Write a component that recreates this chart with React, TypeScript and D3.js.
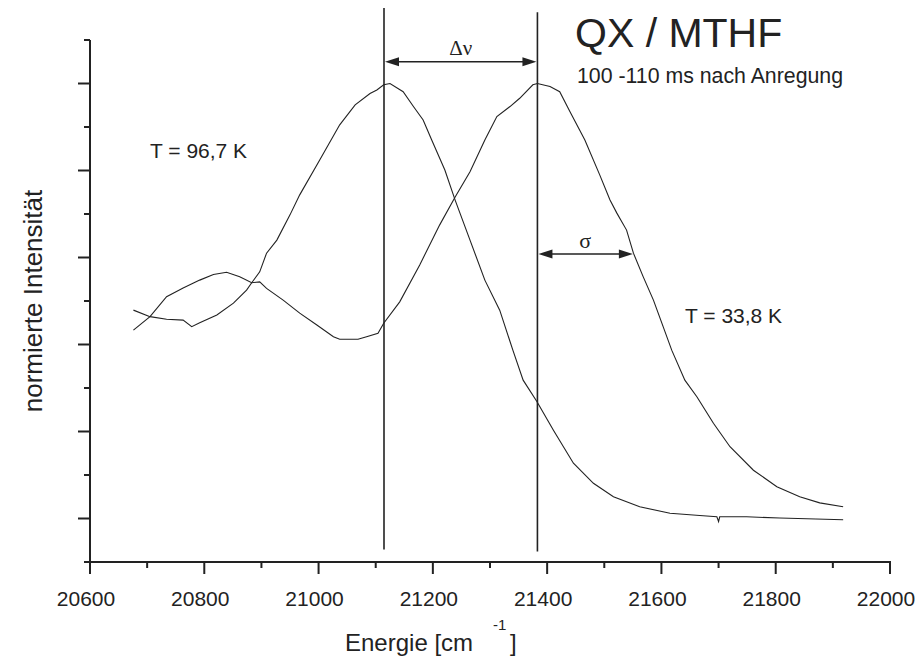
import React from "react";
import * as d3 from "d3";

// Energy axis [cm^-1] and normalized intensity
const energyLow = [20676, 20705, 20734, 20763, 20778, 20792, 20822, 20851, 20874, 20883, 20897, 20909, 20927, 20950, 20967, 21002, 21037, 21064, 21090, 21102, 21114, 21125, 21148, 21166, 21183, 21198, 21221, 21239, 21265, 21291, 21317, 21340, 21358, 21382, 21411, 21446, 21481, 21516, 21562, 21615, 21667, 21697, 21700, 21702, 21749, 21807, 21918];
const intensityHigh967 = [0.479, 0.464, 0.458, 0.456, 0.441, 0.450, 0.468, 0.495, 0.525, 0.542, 0.567, 0.610, 0.640, 0.698, 0.744, 0.824, 0.905, 0.951, 0.977, 0.985, 0.997, 1.000, 0.981, 0.947, 0.916, 0.870, 0.801, 0.732, 0.640, 0.548, 0.479, 0.387, 0.318, 0.269, 0.203, 0.127, 0.081, 0.050, 0.027, 0.012, 0.007, 0.004, -0.007, 0.004, 0.004, 0.001, -0.003];

const energyCold = [20676, 20705, 20734, 20763, 20792, 20816, 20839, 20862, 20883, 20897, 20909, 20938, 20967, 20997, 21026, 21037, 21069, 21084, 21104, 21114, 21142, 21177, 21212, 21239, 21265, 21291, 21312, 21335, 21352, 21375, 21383, 21405, 21422, 21440, 21466, 21492, 21510, 21522, 21539, 21551, 21568, 21586, 21603, 21618, 21641, 21662, 21691, 21720, 21761, 21802, 21842, 21877, 21918];
const intensity338 = [0.433, 0.464, 0.510, 0.530, 0.548, 0.561, 0.566, 0.556, 0.542, 0.544, 0.529, 0.502, 0.472, 0.445, 0.418, 0.412, 0.412, 0.418, 0.426, 0.449, 0.498, 0.583, 0.675, 0.739, 0.797, 0.870, 0.924, 0.947, 0.966, 0.997, 1.000, 0.993, 0.981, 0.935, 0.870, 0.790, 0.732, 0.702, 0.663, 0.610, 0.556, 0.502, 0.441, 0.387, 0.318, 0.280, 0.219, 0.165, 0.111, 0.073, 0.050, 0.036, 0.027];

const xTickLabels = [20600, 20800, 21000, 21200, 21400, 21600, 21800, 22000];
const xMinorTicks = [20700, 20900, 21100, 21300, 21500, 21700, 21900];
const yMajorTicks = [1.0, 0.8, 0.6, 0.4, 0.2, 0.0];
const yMinorTicks = [1.1, 0.9, 0.7, 0.5, 0.3, 0.1, -0.1];

// annotations
const peakEnergies = [21114.5, 21383];
const peakLineTops = [1.1735, 1.164];
const peakLineBottoms = [-0.0713, -0.0759];
const deltaNuLevel = 1.05;
const sigmaEnd = 21550;
const sigmaLevel = 0.608;

const FONT = "'Liberation Sans', Arial, Helvetica, sans-serif";
const SERIF = "'Liberation Serif', 'Times New Roman', serif";
const INK = "#222";

export default function App() {
  const W = 917, H = 660;
  const x = d3.scaleLinear().domain([20600, 22000]).range([90, 890]);
  const y = d3.scaleLinear().domain([-0.1, 1.1]).range([562, 40]);

  const line = d3.line<[number, number]>().x(d => x(d[0])).y(d => y(d[1]));
  const d967 = line(energyLow.map((e, i) => [e, intensityHigh967[i]] as [number, number])) || "";
  const d338 = line(energyCold.map((e, i) => [e, intensity338[i]] as [number, number])) || "";

  const arrowHead = (tipX: number, tipY: number, dir: number) => {
    const len = 14, half = 4.5;
    return `M${tipX},${tipY} L${tipX - dir * len},${tipY - half} L${tipX - dir * len},${tipY + half} Z`;
  };

  const x0 = x(20600), yBase = y(-0.1);
  const dnY = y(deltaNuLevel);
  const sgY = y(sigmaLevel);
  const xL = x(peakEnergies[0]), xR = x(peakEnergies[1]), xS = x(sigmaEnd);

  return (
    <svg width={W} height={H} style={{ position: "absolute", left: 0, top: 0, background: "#fff" }}>
      <rect x={0} y={0} width={W} height={H} fill="#fff" />
      {/* axes */}
      <line x1={x0} y1={y(1.1)} x2={x0} y2={yBase} stroke={INK} strokeWidth={2} />
      <line x1={x0 - 1} y1={yBase} x2={x(22000) + 1} y2={yBase} stroke={INK} strokeWidth={2} />
      {yMajorTicks.map(v => (
        <line key={"ym" + v} x1={x0 - 12} x2={x0} y1={y(v)} y2={y(v)} stroke={INK} strokeWidth={2} />
      ))}
      {yMinorTicks.map(v => (
        <line key={"yn" + v} x1={x0 - 6} x2={x0} y1={y(v)} y2={y(v)} stroke={INK} strokeWidth={2} />
      ))}
      {xTickLabels.map(v => (
        <g key={"xm" + v}>
          <line x1={x(v)} x2={x(v)} y1={yBase} y2={yBase + 12} stroke={INK} strokeWidth={2} />
          <text x={x(v) - 4} y={606} textAnchor="middle" fontFamily={FONT} fontSize={21} fill={INK}>{v}</text>
        </g>
      ))}
      {xMinorTicks.map(v => (
        <line key={"xn" + v} x1={x(v)} x2={x(v)} y1={yBase} y2={yBase + 6} stroke={INK} strokeWidth={2} />
      ))}

      {/* axis titles */}
      <text x={345} y={651} fontFamily={FONT} fontSize={24} fill={INK}>Energie [cm</text>
      <text x={493} y={630} fontFamily={FONT} fontSize={15} fill={INK}>-1</text>
      <text x={510} y={651} fontFamily={FONT} fontSize={24} fill={INK}>]</text>
      <text transform={`translate(42,${(y(1.1) + yBase) / 2}) rotate(-90)`} textAnchor="middle"
        fontFamily={FONT} fontSize={26} fill={INK}>normierte Intensität</text>

      {/* curves */}
      <path d={d967} fill="none" stroke={INK} strokeWidth={1.1} />
      <path d={d338} fill="none" stroke={INK} strokeWidth={1.1} />

      {/* vertical peak lines */}
      {peakEnergies.map((e, i) => (
        <line key={"pl" + i} x1={x(e)} x2={x(e)} y1={y(peakLineTops[i])} y2={y(peakLineBottoms[i])} stroke={INK} strokeWidth={1.6} />
      ))}

      {/* delta nu arrow */}
      <line x1={xL + 10} x2={xR - 10} y1={dnY} y2={dnY} stroke={INK} strokeWidth={1.5} />
      <path d={arrowHead(xL + 1, dnY, -1)} fill={INK} />
      <path d={arrowHead(xR - 1, dnY, 1)} fill={INK} />
      <text x={(xL + xR) / 2} y={55} textAnchor="middle" fontFamily={SERIF} fontSize={21} fill={INK}>Δν</text>

      {/* sigma arrow */}
      <line x1={xR + 10} x2={xS - 10} y1={sgY} y2={sgY} stroke={INK} strokeWidth={1.5} />
      <path d={arrowHead(xR + 1, sgY, -1)} fill={INK} />
      <path d={arrowHead(xS, sgY, 1)} fill={INK} />
      <text x={(xR + xS) / 2} y={248} textAnchor="middle" fontFamily={SERIF} fontSize={22} fill={INK}>σ</text>

      {/* labels */}
      <text x={575} y={47} fontFamily={FONT} fontSize={41} fill={INK}>QX / MTHF</text>
      <text x={577} y={83} fontFamily={FONT} fontSize={21.3} fill={INK}>100 -110 ms nach Anregung</text>
      <text x={150} y={158} fontFamily={FONT} fontSize={21} fill={INK}>T = 96,7 K</text>
      <text x={685} y={323} fontFamily={FONT} fontSize={21} fill={INK}>T = 33,8 K</text>
    </svg>
  );
}
